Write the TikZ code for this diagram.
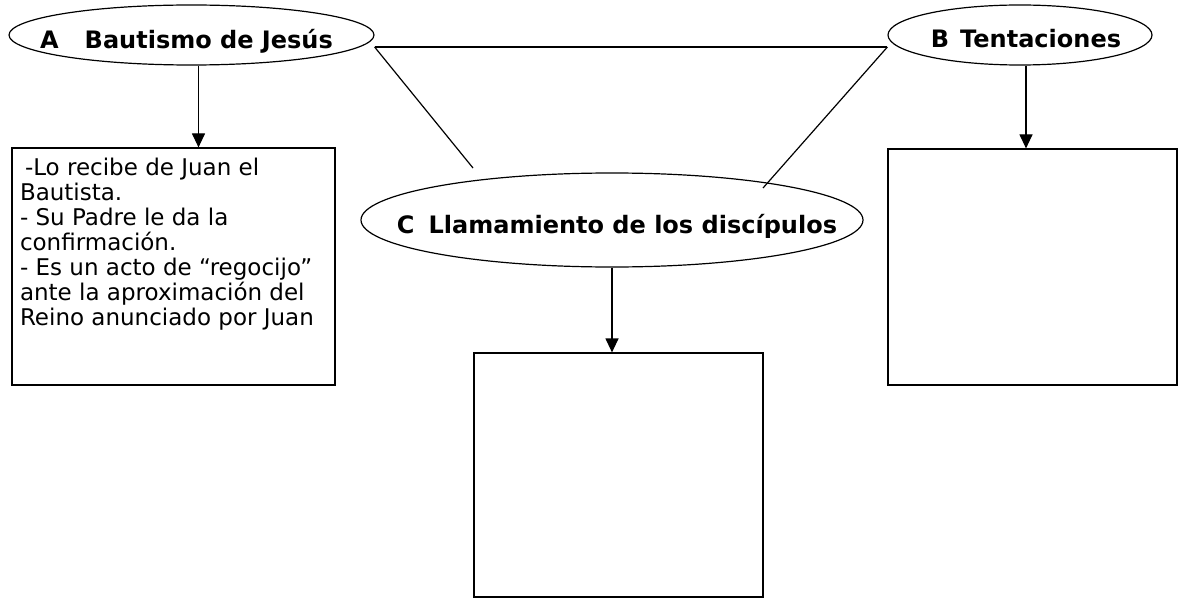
\documentclass[tikz,border=0pt]{standalone}
\usepackage{fontspec}
\setmainfont{DejaVu Sans}
\usetikzlibrary{shapes.geometric,arrows.meta}
\newcommand{\rotulo}[3]{\raisebox{#2}[0pt][0pt]{\makebox[0pt]{\hspace*{#1}#3}}}

\begin{document}
\begin{tikzpicture}[x=1pt,y=-1pt,line width=1.2pt]
\tikzstyle{tema}=[draw,shape=ellipse,inner sep=0pt,font=\fontsize{24}{28}\selectfont\bfseries];
\tikzstyle{caja}=[draw,shape=rectangle,inner sep=0pt];
\tikzstyle{flecha}=[-{Triangle[length=14pt,width=13pt]}];
\useasboundingbox (0,0) rectangle (1183,599);

\node[tema,minimum width=365pt,minimum height=60pt] (bautismo) at (191.5,35) {\rotulo{-10pt}{-14pt}{A\hspace{26pt}Bautismo de Jesús}};
\node[tema,minimum width=264pt,minimum height=60pt] (tentaciones) at (1020,35) {\rotulo{12pt}{-13pt}{B\hspace{11pt}Tentaciones}};
\node[tema,minimum width=502pt,minimum height=94pt] (llamamiento) at (612,220) {\rotulo{10pt}{-13pt}{C\hspace{14pt}Llamamiento de los discípulos}};

\node[caja,minimum width=323pt,minimum height=237pt] (cajaA) at (173.5,266.5) {};
\node[caja,minimum width=289pt,minimum height=236pt] (cajaB) at (1032.5,267) {};
\node[caja,minimum width=289pt,minimum height=244pt] (cajaC) at (618.5,475) {};

\node[anchor=north west,inner sep=0pt,align=left,font=\fontsize{23}{25}\selectfont] (textoA) at ([xshift=8pt,yshift=-10pt]cajaA.north west)
{\hspace*{5pt}-Lo recibe de Juan el\\Bautista.\\- Su Padre le da la\\confirmación.\\- Es un acto de “regocijo”\\ante la aproximación del\\Reino anunciado por Juan};

\coordinate (cizq) at (473,168);
\coordinate (cder) at (763,188);

\draw ([yshift=-12pt]bautismo.east) -- ([yshift=-12pt]tentaciones.west);
\draw ([yshift=-12pt]bautismo.east) -- (cizq);
\draw ([yshift=-12pt]tentaciones.west) -- (cder);

\draw[flecha] ([xshift=7pt]bautismo.south) -- ([xshift=7pt]bautismo.south |- cajaA.north);
\draw[flecha] ([xshift=6pt]tentaciones.south) -- ([xshift=6pt]tentaciones.south |- cajaB.north);
\draw[flecha] (llamamiento.south) -- (llamamiento.south |- cajaC.north);
\end{tikzpicture}
\end{document}
